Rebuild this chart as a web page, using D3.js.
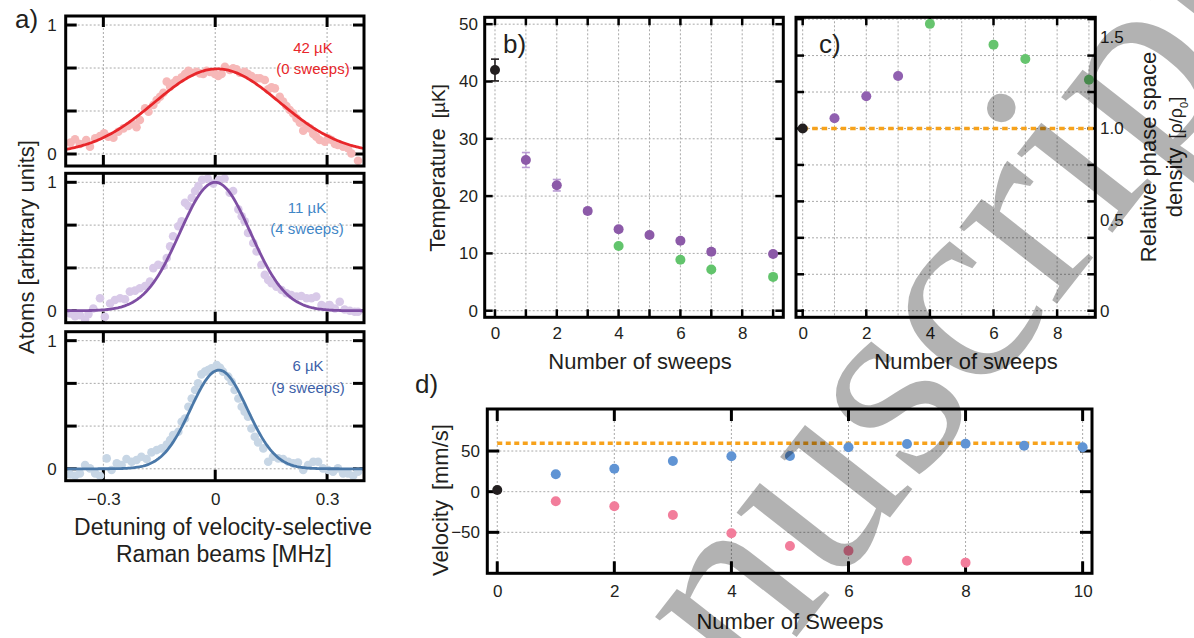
<!DOCTYPE html>
<html><head><meta charset="utf-8">
<script src="https://cdn.jsdelivr.net/npm/d3@7"></script>
<style>body{margin:0;background:#fff} svg{display:block}</style>
</head><body>
<script>
// ---------------- DATA ----------------
const detuningTicks = [-0.3, 0, 0.3];
const atomsTicks = [0, 1/3, 2/3, 1];
const atomsTickLabels = [0, 1];

const spectrum0 = [[-0.388,0.088],[-0.376,0.114],[-0.363,0.078],[-0.346,0.109],[-0.336,0.057],[-0.322,0.121],[-0.309,0.140],[-0.298,0.160],[-0.287,0.134],[-0.273,0.127],[-0.260,0.173],[-0.246,0.199],[-0.233,0.217],[-0.220,0.233],[-0.211,0.207],[-0.202,0.264],[-0.188,0.354],[-0.179,0.328],[-0.166,0.380],[-0.157,0.419],[-0.148,0.444],[-0.139,0.475],[-0.130,0.561],[-0.121,0.522],[-0.113,0.548],[-0.104,0.574],[-0.090,0.594],[-0.081,0.620],[-0.072,0.646],[-0.063,0.630],[-0.050,0.638],[-0.041,0.625],[-0.032,0.620],[-0.023,0.646],[-0.014,0.636],[-0.001,0.620],[0.008,0.605],[0.017,0.620],[0.026,0.677],[0.039,0.651],[0.048,0.664],[0.057,0.656],[0.066,0.630],[0.079,0.638],[0.088,0.620],[0.097,0.605],[0.111,0.587],[0.120,0.587],[0.133,0.574],[0.142,0.501],[0.151,0.517],[0.160,0.509],[0.173,0.444],[0.182,0.406],[0.191,0.372],[0.200,0.341],[0.209,0.315],[0.218,0.276],[0.227,0.243],[0.236,0.181],[0.245,0.217],[0.254,0.199],[0.263,0.155],[0.271,0.134],[0.280,0.109],[0.294,0.096],[0.303,0.121],[0.312,0.109],[0.321,0.078],[0.329,0.070],[0.343,0.057],[0.356,0.044],[0.365,0.005],[0.383,-0.052]];
const spectrum4 = [[-0.389,-0.021],[-0.376,-0.042],[-0.363,-0.034],[-0.349,-0.068],[-0.340,-0.026],[-0.327,0.018],[-0.309,0.097],[-0.296,-0.047],[-0.282,0.057],[-0.269,0.084],[-0.255,0.097],[-0.242,0.089],[-0.229,0.149],[-0.215,0.157],[-0.202,0.175],[-0.188,0.193],[-0.175,0.227],[-0.166,0.332],[-0.153,0.358],[-0.139,0.350],[-0.130,0.410],[-0.121,0.501],[-0.113,0.580],[-0.099,0.658],[-0.090,0.697],[-0.081,0.841],[-0.072,0.815],[-0.063,0.880],[-0.054,0.932],[-0.045,0.970],[-0.035,1.020],[-0.020,1.030],[-0.005,0.990],[0.010,1.020],[0.025,1.030],[0.039,0.919],[0.048,0.932],[0.062,0.789],[0.071,0.736],[0.079,0.697],[0.088,0.606],[0.102,0.527],[0.111,0.462],[0.124,0.358],[0.133,0.279],[0.142,0.240],[0.151,0.214],[0.164,0.188],[0.178,0.162],[0.191,0.136],[0.204,0.123],[0.218,0.110],[0.231,0.115],[0.245,0.097],[0.258,0.097],[0.271,0.110],[0.285,0.044],[0.294,0.031],[0.307,0.044],[0.321,0.018],[0.334,0.070],[0.347,0.010],[0.361,0.000],[0.374,-0.008],[0.383,-0.008]];
const spectrum9 = [[-0.389,-0.044],[-0.376,-0.055],[-0.363,-0.036],[-0.349,0.029],[-0.336,0.003],[-0.322,-0.036],[-0.309,-0.055],[-0.291,0.081],[-0.278,-0.010],[-0.264,0.042],[-0.251,0.029],[-0.238,0.076],[-0.224,0.055],[-0.211,0.068],[-0.198,0.094],[-0.184,0.076],[-0.171,0.128],[-0.157,0.146],[-0.144,0.159],[-0.130,0.190],[-0.121,0.224],[-0.113,0.263],[-0.099,0.289],[-0.090,0.367],[-0.081,0.393],[-0.072,0.484],[-0.063,0.549],[-0.054,0.615],[-0.046,0.667],[-0.037,0.737],[-0.028,0.758],[-0.019,0.771],[-0.010,0.784],[0.004,0.810],[0.013,0.789],[0.021,0.758],[0.035,0.719],[0.044,0.680],[0.052,0.615],[0.062,0.549],[0.071,0.484],[0.079,0.445],[0.088,0.406],[0.097,0.315],[0.106,0.250],[0.115,0.206],[0.129,0.159],[0.142,0.055],[0.155,0.094],[0.169,0.081],[0.182,0.076],[0.196,0.055],[0.209,0.042],[0.222,0.049],[0.236,-0.010],[0.249,0.029],[0.263,0.055],[0.276,0.055],[0.289,0.003],[0.303,-0.010],[0.316,-0.023],[0.329,0.003],[0.343,-0.036],[0.356,-0.036],[0.370,-0.055],[0.383,-0.023]];
const fitAmplitude = [0.66, 1.0, 0.77];
const fitCenter = [0.005, 0.0, 0.01];
const fitSigma = [0.168, 0.095, 0.076];
const spectrumTemp = ["42 µK", "11 µK", "6 µK"];
const spectrumSweeps = ["(0 sweeps)", "(4 sweeps)", "(9 sweeps)"];

const sweepGridB = [0,1,2,3,4,5,6,7,8,9];
const sweepLabelsB = [0,2,4,6,8];
const tempTicks = [0,10,20,30,40,50];
const tempSweepsBlack = [0], tempBlack = [42.0], tempErrBlack = [1.9];
const tempSweepsPurple = [1,2,3,4,5,6,7,9];
const tempPurple = [26.3,21.9,17.4,14.2,13.2,12.2,10.3,9.9];
const tempErrPurple = [1.3,1.0,0.5,0.4,0.4,0.3,0.5,0.4];
const tempSweepsGreen = [4,6,7,9];
const tempGreen = [11.3,8.9,7.2,5.9];

const psdTicks = [0,0.2,0.4,0.6,0.8,1.0,1.2,1.4,1.6];
const psdLabels = [0,0.5,1.0,1.5];
const psdSweepsBlack = [0], psdBlack = [1.0];
const psdSweepsPurple = [1,2,3], psdPurple = [1.056,1.177,1.288];
const psdSweepsGreen = [4,6,7,9], psdGreen = [1.574,1.460,1.381,1.267];
const psdReference = 1.0;

const sweepTicksD = [0,2,4,6,8,10];
const velTicks = [-50,0,50];
const velSweepsBlack = [0], velBlack = [2];
const velSweepsBlue = [1,2,3,4,5,6,7,8,9,10];
const velBlue = [21.4,28.3,37.8,43.5,43.9,54.6,58.7,59.0,56.6,54.6];
const velSweepsPink = [1,2,3,4,5,6,7,8];
const velPink = [-11.8,-18.0,-28.7,-51.2,-66.8,-72.6,-84.9,-87.3];
const velReference = 59.5;

const watermarkText = "Accepted Manuscript";

// ---------------- STYLE ----------------
const FONT = "Liberation Sans, Arial, sans-serif";
const INK = "#231f20";
const GRID = "#a9a9a9";
const ORANGE = "#f7a21b";

const svg = d3.select("body").append("svg").attr("width",1194).attr("height",638)
  .attr("font-family", FONT);

function frame(g, x, y, o){
  const [xa, xb] = x.range(), [yb, ya] = y.range();
  const grid = g.append("g").attr("stroke", GRID).attr("stroke-width",1).attr("stroke-dasharray","2,2");
  grid.selectAll(".gx").data(o.gridX).join("line")
    .attr("x1",d=>x(d)).attr("x2",d=>x(d)).attr("y1",ya).attr("y2",yb);
  grid.selectAll(".gy").data(o.gridY).join("line").attr("class","gy")
    .attr("y1",d=>y(d)).attr("y2",d=>y(d)).attr("x1",xa).attr("x2",xb);
  const t = g.append("g").attr("stroke", "#000").attr("stroke-width", o.tw);
  const L = o.tl;
  o.tickX.forEach(d=>{
    t.append("line").attr("x1",x(d)).attr("x2",x(d)).attr("y1",ya).attr("y2",ya+L);
    t.append("line").attr("x1",x(d)).attr("x2",x(d)).attr("y1",yb).attr("y2",yb-L);
  });
  o.tickY.forEach(d=>{
    t.append("line").attr("y1",y(d)).attr("y2",y(d)).attr("x1",xa).attr("x2",xa+L);
    t.append("line").attr("y1",y(d)).attr("y2",y(d)).attr("x1",xb).attr("x2",xb-L);
  });
}
function border(g, x, y, w){
  const [xa, xb] = x.range(), [yb, ya] = y.range();
  g.append("rect").attr("x",xa).attr("y",ya).attr("width",xb-xa).attr("height",yb-ya)
    .attr("fill","none").attr("stroke","#000").attr("stroke-width",w);
}
function labels(g, axis, tr, size){
  const a = g.append("g").attr("transform", tr).call(axis);
  a.select(".domain").remove();
  a.selectAll("line").remove();
  a.attr("font-family", FONT).attr("font-size", size).selectAll("text").attr("fill", INK);
  return a;
}
function dots(g, x, y, xs, ys, r, color){
  g.append("g").selectAll("circle").data(xs).join("circle")
    .attr("cx",d=>x(d)).attr("cy",(d,i)=>y(ys[i])).attr("r",r).attr("fill",color);
}
function rotText(g, px, py, parts, anchor){
  const t = g.append("text").attr("transform",`translate(${px},${py}) rotate(-90)`)
    .attr("text-anchor", anchor||"middle").attr("fill", INK);
  parts.forEach(p=>{
    const s = t.append("tspan").text(p.t).attr("font-size", p.s);
    if(p.dx) s.attr("dx", p.dx);
    if(p.bs) s.attr("baseline-shift", p.bs);
  });
  return t;
}

// ---------------- PANEL a ----------------
const ga = svg.append("g");
const xA = d3.scaleLinear([-0.401, 0.399],[65.7, 364]);
const subTop = [16, 173.3, 331.7], subBot = [166, 322.7, 480.7];
const spectra = [spectrum0, spectrum4, spectrum9];
const ptColor = ["#f6b8b8", "#d8c9e8", "#c7d6e5"];
const lineColor = ["#e8262a", "#7e4ea3", "#4a78a8"];
const txtColor = ["#e8262a", "#3f86c6", "#3d5fa8"];
const curveX = d3.range(-0.401, 0.4, 0.004);
spectra.forEach((data, i)=>{
  const yA = d3.scaleLinear([-0.093, 1.07],[subBot[i], subTop[i]]);
  const g = ga.append("g");
  frame(g, xA, yA, {gridX: detuningTicks, gridY: atomsTicks, tickX: detuningTicks, tickY: atomsTicks, tl: 11, tw: 3});
  g.append("g").selectAll("circle").data(data).join("circle")
    .attr("cx",d=>xA(d[0])).attr("cy",d=>yA(d[1])).attr("r",4.3).attr("fill",ptColor[i]);
  const line = d3.line().x(d=>xA(d)).y(d=>yA(fitAmplitude[i]*Math.exp(-((d-fitCenter[i])**2)/(2*fitSigma[i]**2))));
  g.append("path").datum(curveX).attr("d", line).attr("fill","none").attr("stroke",lineColor[i]).attr("stroke-width",2.8);
  border(g, xA, yA, 3);
  labels(g, d3.axisLeft(yA).tickValues(atomsTickLabels).tickFormat(d3.format("d")).tickSize(0).tickPadding(9), `translate(${xA.range()[0]},0)`, 17);
  const cx = [313, 307, 308][i];
  g.append("text").attr("x",cx).attr("y",yA(1)+ [28,31,30][i]).attr("text-anchor","middle").attr("font-size",15).attr("fill",txtColor[i]).text(spectrumTemp[i]);
  g.append("text").attr("x",cx).attr("y",yA(1)+ [49,52,52][i]).attr("text-anchor","middle").attr("font-size",15).attr("fill",txtColor[i]).text(spectrumSweeps[i]);
  if(i===2){
    labels(g, d3.axisBottom(xA).tickValues(detuningTicks).tickFormat(d=>d===0?"0":d3.format(".1f")(d)).tickSize(0).tickPadding(12), `translate(0,${subBot[i]})`, 17);
  }
});
ga.append("text").attr("x",223).attr("y",535).attr("text-anchor","middle").attr("font-size",23).attr("fill",INK).text("Detuning of velocity-selective");
ga.append("text").attr("x",224).attr("y",562).attr("text-anchor","middle").attr("font-size",23).attr("fill",INK).text("Raman beams  [MHz]");
rotText(ga, 34, 247, [{t:"Atoms [arbitrary units]", s:22}]);
ga.append("text").attr("x",15).attr("y",28).attr("font-size",26).attr("fill",INK).text("a)");

// ---------------- PANEL b ----------------
const gb = svg.append("g");
const xB = d3.scaleLinear([-0.333, 9.33],[484.7, 783.3]);
const yB = d3.scaleLinear([-1.15, 51.2],[317.3, 17.3]);
frame(gb, xB, yB, {gridX: sweepGridB, gridY: tempTicks, tickX: sweepGridB, tickY: tempTicks, tl: 8, tw: 2.5});
function errBars(g, xs, ys, es, color){
  const e = g.append("g").attr("stroke", color).attr("stroke-width", 1.6);
  xs.forEach((d,i)=>{
    e.append("line").attr("x1",xB(d)).attr("x2",xB(d)).attr("y1",yB(ys[i]-es[i])).attr("y2",yB(ys[i]+es[i]));
    e.append("line").attr("x1",xB(d)-4).attr("x2",xB(d)+4).attr("y1",yB(ys[i]-es[i])).attr("y2",yB(ys[i]-es[i]));
    e.append("line").attr("x1",xB(d)-4).attr("x2",xB(d)+4).attr("y1",yB(ys[i]+es[i])).attr("y2",yB(ys[i]+es[i]));
  });
}
errBars(gb, tempSweepsBlack, tempBlack, tempErrBlack, "#231f20");
errBars(gb, tempSweepsPurple, tempPurple, tempErrPurple, "#b99bd3");
dots(gb, xB, yB, tempSweepsBlack, tempBlack, 5, "#231f20");
dots(gb, xB, yB, tempSweepsPurple, tempPurple, 5, "#8c5aa8");
dots(gb, xB, yB, tempSweepsGreen, tempGreen, 5, "#62c46c");
border(gb, xB, yB, 3);
labels(gb, d3.axisLeft(yB).tickValues(tempTicks).tickSize(0).tickPadding(6.7), `translate(484.7,0)`, 17);
labels(gb, d3.axisBottom(xB).tickValues(sweepLabelsB).tickSize(0).tickPadding(10), `translate(0,317.3)`, 17);
gb.append("text").attr("x",640).attr("y",369).attr("text-anchor","middle").attr("font-size",22).attr("fill",INK).text("Number of sweeps");
rotText(gb, 445, 168, [{t:"Temperature", s:22},{t:"[µK]", s:19, dx:10}]);
gb.append("text").attr("x",503).attr("y",53).attr("font-size",26).attr("fill",INK).text("b)");

// ---------------- PANEL c ----------------
const gc = svg.append("g");
const xC = d3.scaleLinear([-0.21, 9.2],[796, 1095.3]);
const yC = d3.scaleLinear([-0.036, 1.61],[317.3, 17.3]);
frame(gc, xC, yC, {gridX: sweepGridB, gridY: psdTicks, tickX: sweepLabelsB, tickY: psdTicks, tl: 8, tw: 2.5});
gc.append("line").attr("x1",xC(0)).attr("x2",xC.range()[1]).attr("y1",yC(psdReference)).attr("y2",yC(psdReference))
  .attr("stroke",ORANGE).attr("stroke-width",3.6).attr("stroke-dasharray","5.5,4");
dots(gc, xC, yC, psdSweepsBlack, psdBlack, 5, "#231f20");
dots(gc, xC, yC, psdSweepsPurple, psdPurple, 5, "#9060b0");
dots(gc, xC, yC, psdSweepsGreen, psdGreen, 5, "#66c46e");
border(gc, xC, yC, 3);
labels(gc, d3.axisRight(yC).tickValues(psdLabels).tickFormat(d=>d===0?"0":d3.format(".1f")(d)).tickSize(0).tickPadding(4.7), `translate(1095.3,0)`, 17);
labels(gc, d3.axisBottom(xC).tickValues(sweepLabelsB).tickSize(0).tickPadding(10), `translate(0,317.3)`, 17);
gc.append("text").attr("x",966).attr("y",369).attr("text-anchor","middle").attr("font-size",22).attr("fill",INK).text("Number of sweeps");
rotText(gc, 1156, 157, [{t:"Relative phase space", s:22}]);
rotText(gc, 1182, 157, [{t:"density", s:22},{t:"[ρ/ρ", s:18, dx:9},{t:"0", s:11, bs:"sub"},{t:"]", s:18}]);
gc.append("text").attr("x",819).attr("y",53).attr("font-size",26).attr("fill",INK).text("c)");

// ---------------- PANEL d ----------------
const gd = svg.append("g");
const xD = d3.scaleLinear([-0.17, 10.16],[487.3, 1092]);
const yD = d3.scaleLinear([-100.4, 101.7],[573.3, 409]);
frame(gd, xD, yD, {gridX: sweepTicksD, gridY: velTicks, tickX: sweepTicksD, tickY: velTicks, tl: 12, tw: 3});
gd.append("line").attr("x1",xD(0)).attr("x2",xD(10)).attr("y1",yD(velReference)).attr("y2",yD(velReference))
  .attr("stroke",ORANGE).attr("stroke-width",3.6).attr("stroke-dasharray","5,3.5");
dots(gd, xD, yD, velSweepsBlack, velBlack, 5, "#231f20");
dots(gd, xD, yD, velSweepsBlue, velBlue, 5, "#6094d4");
dots(gd, xD, yD, velSweepsPink, velPink, 5, "#f27d9b");
border(gd, xD, yD, 3);
labels(gd, d3.axisLeft(yD).tickValues(velTicks).tickSize(0).tickPadding(7.3), `translate(487.3,0)`, 17);
labels(gd, d3.axisBottom(xD).tickValues(sweepTicksD).tickSize(0).tickPadding(12), `translate(0,573.3)`, 17);
gd.append("text").attr("x",790).attr("y",629).attr("text-anchor","middle").attr("font-size",22).attr("fill",INK).text("Number of Sweeps");
rotText(gd, 448, 500, [{t:"Velocity", s:22},{t:"[mm/s]", s:22, dx:10}]);
gd.append("text").attr("x",415).attr("y",393).attr("font-size",26).attr("fill",INK).text("d)");

// ---------------- WATERMARK ----------------
const wmSize = 270, wmAngle = -52;
const wm = svg.append("text").text(watermarkText).attr("font-family","Liberation Serif, Times New Roman, serif")
  .attr("font-size", wmSize).attr("fill","#000").attr("fill-opacity",0.3);
const iIdx = watermarkText.lastIndexOf("i");
const ext = wm.node().getExtentOfChar(iIdx);
const lx = ext.x + ext.width/2, ly = -0.63*wmSize;
const th = wmAngle*Math.PI/180;
const sx = lx*Math.cos(th) - ly*Math.sin(th), sy = lx*Math.sin(th) + ly*Math.cos(th);
wm.attr("transform", `translate(${998-sx},${103-sy}) rotate(${wmAngle})`);
</script>
</body></html>
